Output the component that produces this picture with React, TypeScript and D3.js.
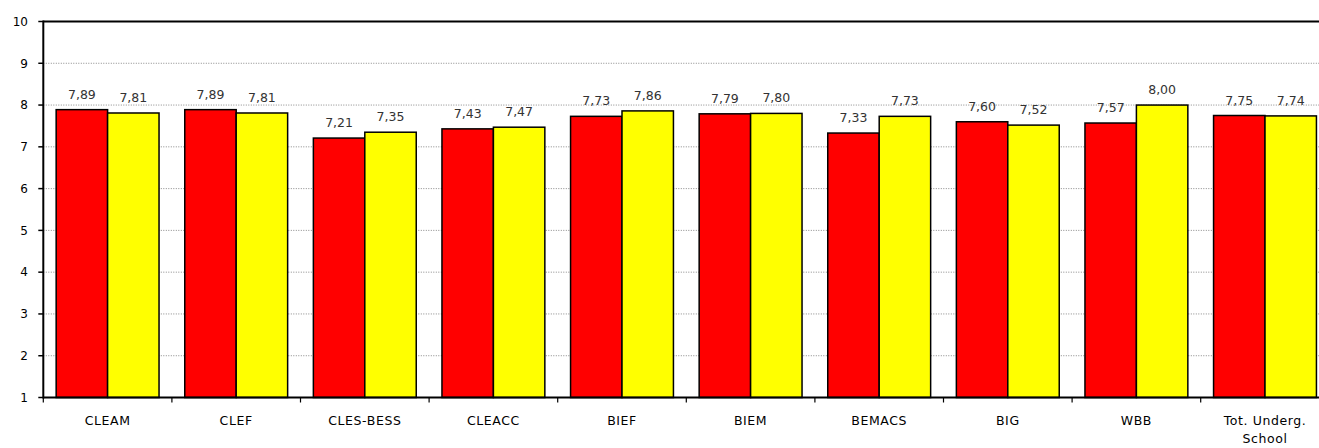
import * as d3 from 'd3';

const categories = ['CLEAM', 'CLEF', 'CLES-BESS', 'CLEACC', 'BIEF', 'BIEM', 'BEMACS', 'BIG', 'WBB', 'Tot. Underg.|School'];
const seriesRed = [7.89, 7.89, 7.21, 7.43, 7.73, 7.79, 7.33, 7.6, 7.57, 7.75];
const seriesYellow = [7.81, 7.81, 7.35, 7.47, 7.86, 7.8, 7.73, 7.52, 8.0, 7.74];
const yTicks = [1, 2, 3, 4, 5, 6, 7, 8, 9, 10];

const W = 1319;
const H = 448;
const left = 43.3;
const right = 1329.3;
const top = 21.5;
const bottom = 397.5;

const fmt = (v: number) => v.toFixed(2).replace('.', ',');

export default function App() {
  const x = d3.scaleBand<string>()
    .domain(categories)
    .range([left, right])
    .paddingInner(0.2)
    .paddingOuter(0.1);
  const y = d3.scaleLinear().domain([1, 10]).range([bottom, top]);
  const half = x.bandwidth() / 2;
  const step = x.step();

  return (
    <div style={{ position: 'fixed', left: 0, top: 0, width: W, height: H, background: '#fff' }}>
      <svg width={W} height={H} style={{ display: 'block' }}>
        {/* gridlines */}
        {yTicks.filter(t => t > 1 && t < 10).map(t => (
          <line key={'g' + t} x1={left} x2={W} y1={y(t)} y2={y(t)}
            stroke="#888" strokeWidth={1} strokeDasharray="1,1.5" />
        ))}

        {/* bars */}
        {categories.map((c, i) => (
          <g key={c}>
            <rect x={x(c)!} y={y(seriesRed[i])} width={half} height={bottom - y(seriesRed[i])}
              fill="#ff0000" stroke="#000" strokeWidth={1.5} />
            <rect x={x(c)! + half} y={y(seriesYellow[i])} width={half} height={bottom - y(seriesYellow[i])}
              fill="#ffff00" stroke="#000" strokeWidth={1.5} />
            <text x={x(c)! + half / 2} y={y(seriesRed[i]) - 11} textAnchor="middle"
              fontFamily="DejaVu Sans" fontSize={12.5} fill="#333">{fmt(seriesRed[i])}</text>
            <text x={x(c)! + half * 1.5} y={y(seriesYellow[i]) - 11} textAnchor="middle"
              fontFamily="DejaVu Sans" fontSize={12.5} fill="#333">{fmt(seriesYellow[i])}</text>
          </g>
        ))}

        {/* top border */}
        <line x1={left} x2={W} y1={y(10)} y2={y(10)} stroke="#000" strokeWidth={2} />

        {/* y axis */}
        <line x1={left} x2={left} y1={top - 1} y2={bottom + 1} stroke="#000" strokeWidth={2} />
        {yTicks.map(t => (
          <g key={'y' + t}>
            <line x1={left - 5} x2={left} y1={y(t)} y2={y(t)} stroke="#000" strokeWidth={1.5} />
            <text x={28} y={y(t)} dy="0.36em" textAnchor="end"
              fontFamily="DejaVu Sans" fontSize={12} fill="#000">{t}</text>
          </g>
        ))}

        {/* x axis */}
        <line x1={left} x2={W} y1={bottom} y2={bottom} stroke="#000" strokeWidth={2} />
        {categories.map((c, i) => (
          <line key={'t' + c} x1={left + i * step} x2={left + i * step} y1={bottom} y2={bottom + 5}
            stroke="#000" strokeWidth={1.2} />
        ))}
        {categories.map(c => (
          <text key={'l' + c} x={x(c)! + half} y={425} textAnchor="middle"
            fontFamily="DejaVu Sans" fontSize={12.5} letterSpacing={0.6} fill="#000">
            {c.split('|').map((line, j) => (
              <tspan key={j} x={x(c)! + half} dy={j === 0 ? 0 : 18}>{line}</tspan>
            ))}
          </text>
        ))}
      </svg>
    </div>
  );
}
